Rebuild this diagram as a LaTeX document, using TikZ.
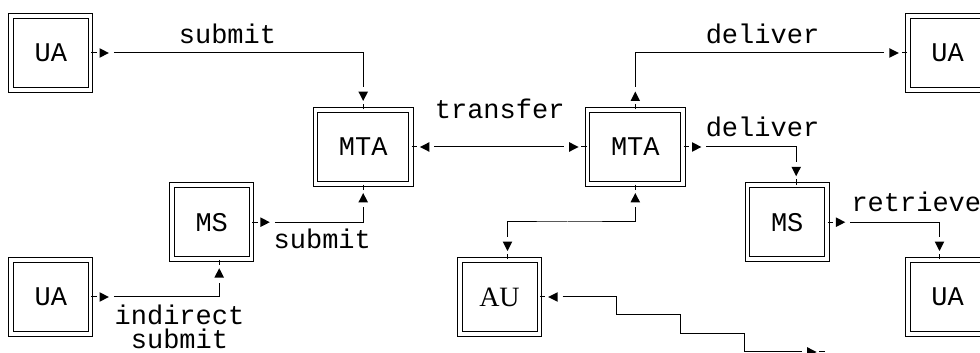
\documentclass[tikz,border=0pt]{standalone}
\usepackage{fontspec}
\setmainfont{Liberation Serif}
\setmonofont{Liberation Mono}
\usetikzlibrary{calc}

% small filled triangle standing off the box edge, pointing into the box
\pgfdeclarearrow{
  name = boxin,
  setup code = {
    \pgfarrowssettipend{0pt}
    \pgfarrowssetlineend{-11.4pt}
    \pgfarrowssetbackend{-11.4pt}
    \pgfarrowsupperhullpoint{0pt}{2.4pt}
    \pgfarrowsupperhullpoint{-11.4pt}{2.4pt}
  },
  drawing code = {
    \pgfsetbuttcap
    \pgfpathmoveto{\pgfqpoint{0pt}{0pt}}
    \pgfpathlineto{\pgfqpoint{-2.8pt}{0pt}}
    \pgfusepathqstroke
    \pgfpathmoveto{\pgfqpoint{-4.2pt}{0pt}}
    \pgfpathlineto{\pgfqpoint{-8.9pt}{2.4pt}}
    \pgfpathlineto{\pgfqpoint{-8.9pt}{-2.4pt}}
    \pgfpathclose
    \pgfusepathqfill
  }
}
% same, but the triangle points away from the box
\pgfdeclarearrow{
  name = boxout,
  setup code = {
    \pgfarrowssettipend{0pt}
    \pgfarrowssetlineend{-11.4pt}
    \pgfarrowssetbackend{-11.4pt}
    \pgfarrowsupperhullpoint{0pt}{2.4pt}
    \pgfarrowsupperhullpoint{-11.4pt}{2.4pt}
  },
  drawing code = {
    \pgfsetbuttcap
    \pgfpathmoveto{\pgfqpoint{0pt}{0pt}}
    \pgfpathlineto{\pgfqpoint{-2.8pt}{0pt}}
    \pgfusepathqstroke
    \pgfpathmoveto{\pgfqpoint{-8.9pt}{0pt}}
    \pgfpathlineto{\pgfqpoint{-4.2pt}{2.4pt}}
    \pgfpathlineto{\pgfqpoint{-4.2pt}{-2.4pt}}
    \pgfpathclose
    \pgfusepathqfill
  }
}

\begin{document}
\begin{tikzpicture}[
    x=0.5pt, y=0.5pt, line width=0.5pt,
    box/.style={rectangle, draw, double, double distance=1.8pt, inner sep=0pt,
                minimum width=39.8pt, minimum height=37.1pt,
                font=\ttfamily\fontsize{13.5}{16}\selectfont},
    mta/.style={box, minimum width=47.8pt},
    lbl/.style={inner sep=0pt, align=center, font=\ttfamily\fontsize{13.5}{12}\selectfont},
    flow/.style={boxout-boxin},
    both/.style={boxin-boxin}
]
    \useasboundingbox (0,0) rectangle (980,353);

    % Agents and stores on the left
    \node[box] (ua1) at (50.8,300) {UA};
    \node[box] (ua2) at (50.8,56) {UA};
    \node[box] (msL) at (211.7,130.8) {MS};
    % The two transfer agents
    \node[mta] (mtaL) at (363.2,206) {MTA};
    \node[mta] (mtaR) at (635.3,206) {MTA};
    \node[box, font=\rmfamily\fontsize{14}{16}\selectfont] (au) at (499.5,56) {AU};
    % Receiving side
    \node[box] (msR) at (787.2,130.8) {MS};
    \node[box] (ua3) at (947.5,300) {UA};
    \node[box] (ua4) at (947.5,56) {UA};
    \coordinate (farend) at (825,1);

    % Labels
    \node[lbl, anchor=base] (lsub) at (227.5,309.7) {submit};
    \node[lbl, anchor=base] (lmsub) at (322.3,104.7) {submit};
    \node[lbl] (lind) at (179.5,26.5) {indirect\\submit};
    \node[lbl, anchor=base] (ltr) at (499.7,234.7) {transfer};
    \node[lbl, anchor=base] (ldel) at (762.5,309.7) {deliver};
    \node[lbl, anchor=base] (ldel2) at (762.5,216.3) {deliver};
    \node[lbl, anchor=base west] (lret) at (851,141.3) {retrieve};

    % Connectors
    \draw[flow] (ua1.east) -| (mtaL.north);
    \draw[flow] (ua2.east) -| ($(msL.south)+(7.5,0)$);
    \draw[flow] (msL.east) -| (mtaL.south);
    \draw[both] (mtaL.east) -- (mtaR.west);
    \draw[flow] (mtaR.north) |- (ua3.west);
    \draw[flow] (mtaR.east) -| ($(msR.north)+(9,0)$);
    \draw[flow] (msR.east) -| ($(ua4.north)+(-8,0)$);
    \draw[both] (mtaR.south) |- ($(mtaR.south)!.5!(au.north)$) -| ($(au.north)+(8,0)$);
    \draw[both] (au.east) -| ++(77,-18) -| ++(64,-18.5) -| ++(64,-18.5) -- (farend);
\end{tikzpicture}
\end{document}
